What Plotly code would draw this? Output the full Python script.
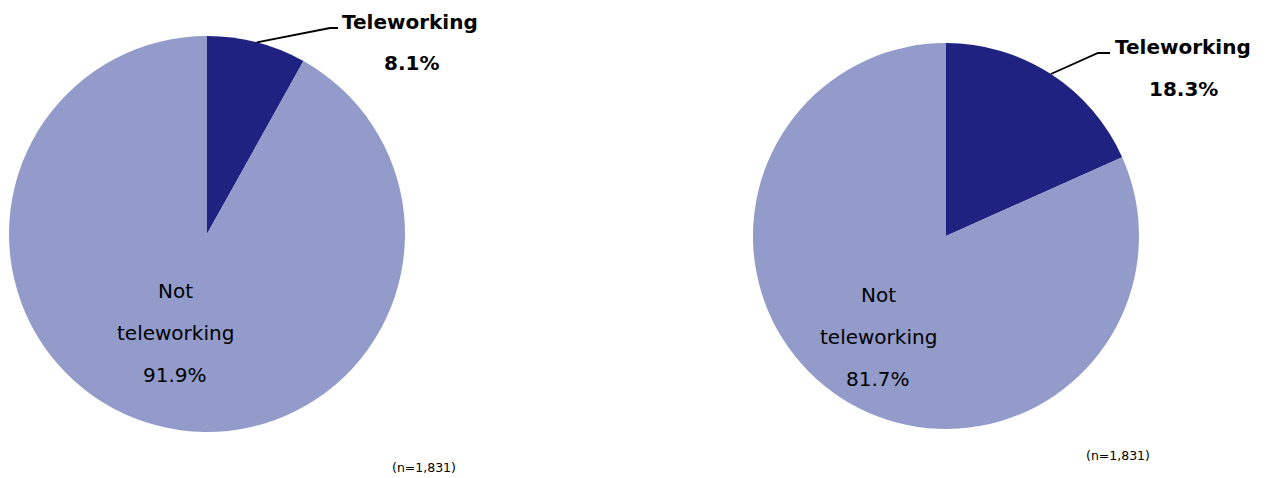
import math
import plotly.graph_objects as go

W, H = 1267, 478

categories = ["Teleworking", "Not teleworking"]
left_values = [8.1, 91.9]
right_values = [18.3, 81.7]
sample_note = "(n=1,831)"

colors = ["#1f2280", "#929bca"]
font_family = "DejaVu Sans, Verdana, sans-serif"

# pie geometry in pixels: (center x, center y from top, radius)
pies = [
    dict(values=left_values, cx=207, cy=234, r=198,
         tele_xy=(410, 22), pct_xy=(411, 63), leader_end=(330, 28), leader_tail=8,
         not_xy=(175, 291), note_xy=(424, 467)),
    dict(values=right_values, cx=946, cy=236, r=193,
         tele_xy=(1183, 47), pct_xy=(1183, 89), leader_end=(1098, 53), leader_tail=12,
         not_xy=(878, 295), note_xy=(1118, 455)),
]


def px(x):
    return x / W


def py(y):
    return 1 - y / H


fig = go.Figure()
annotations = []
shapes = []

for p in pies:
    cx, cy, r = p["cx"], p["cy"], p["r"]
    fig.add_trace(go.Pie(
        labels=categories,
        values=p["values"],
        sort=False,
        direction="clockwise",
        rotation=0,
        marker=dict(colors=colors, line=dict(width=0)),
        textinfo="none",
        hoverinfo="label+percent",
        showlegend=False,
        domain=dict(x=[px(cx - r), px(cx + r)], y=[py(cy + r), py(cy - r)]),
    ))

    tele, other = p["values"]
    # leader line from the middle of the teleworking slice's arc
    mid = math.radians(tele / (tele + other) * 360 / 2)
    sx, sy = cx + r * math.sin(mid), cy - r * math.cos(mid)
    ex, ey = p["leader_end"]
    path = (f"M {px(sx)} {py(sy)} L {px(ex)} {py(ey)} "
            f"L {px(ex + p['leader_tail'])} {py(ey)}")
    shapes.append(dict(type="path", xref="paper", yref="paper", path=path,
                       line=dict(color="#000000", width=1.8)))

    tx, ty = p["tele_xy"]
    annotations.append(dict(x=px(tx), y=py(ty), text=f"<b>{categories[0]}</b>",
                            font=dict(size=20, color="#000")))
    qx, qy = p["pct_xy"]
    annotations.append(dict(x=px(qx), y=py(qy), text=f"<b>{tele:.1f}%</b>",
                            font=dict(size=20, color="#000")))

    nx, ny = p["not_xy"]
    for i, line in enumerate(["Not", "teleworking", f"{other:.1f}%"]):
        annotations.append(dict(x=px(nx), y=py(ny + i * 42), text=line,
                                font=dict(size=20, color="#000")))

    mx, my = p["note_xy"]
    annotations.append(dict(x=px(mx), y=py(my), text=sample_note,
                            font=dict(size=12.5, color="#000")))

for a in annotations:
    a.update(xref="paper", yref="paper", showarrow=False,
             xanchor="center", yanchor="middle")
    a["font"]["family"] = font_family

fig.update_layout(
    width=W, height=H,
    margin=dict(l=0, r=0, t=0, b=0),
    paper_bgcolor="white",
    plot_bgcolor="white",
    annotations=annotations,
    shapes=shapes,
)

fig.write_html("out.html")
